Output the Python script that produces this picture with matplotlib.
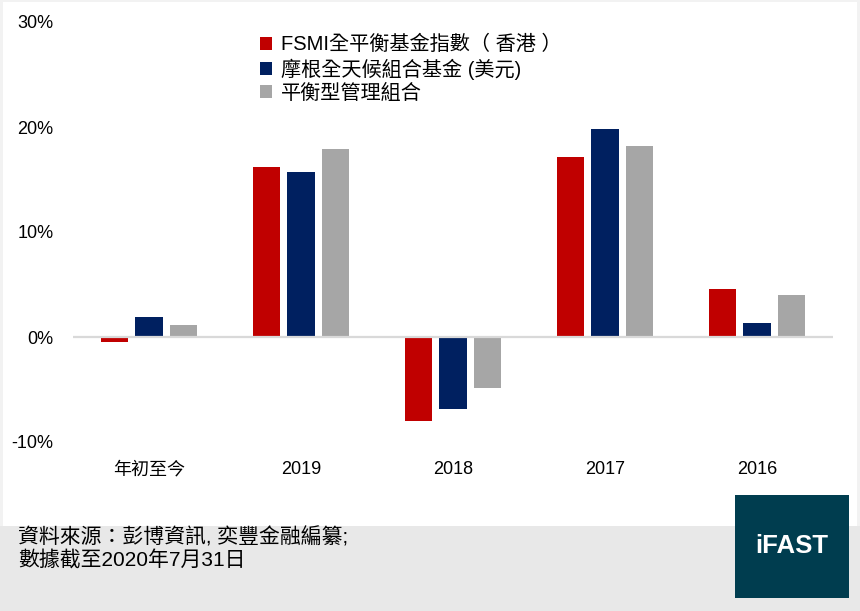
import numpy as np
import matplotlib.pyplot as plt
from matplotlib.patches import Rectangle

plt.rcParams['font.family'] = ['Liberation Sans', 'Noto Sans CJK TC', 'DejaVu Sans']

# 數據 (%)
categories = ['年初至今', '2019', '2018', '2017', '2016']
fsmi = [-0.5, 16.2, -8.0, 17.1, 4.6]
jpm = [1.9, 15.7, -6.9, 19.8, 1.3]
balanced = [1.15, 17.9, -4.85, 18.2, 4.0]
series_names = ['FSMI全平衡基金指數（ 香港 ）', '摩根全天候組合基金 (美元)', '平衡型管理組合']
colors = ['#C00000', '#002060', '#A6A6A6']

W, H = 860, 611
fig = plt.figure(figsize=(8.6, 6.11), dpi=100, facecolor='#F2F2F2')

# 白色圖表區
fig.patches.append(Rectangle((3 / W, 1 - 526 / H), 854 / W, 524 / H, transform=fig.transFigure,
                             facecolor='white', edgecolor='none', zorder=-2))
# 底部灰色資料來源欄
fig.patches.append(Rectangle((0, 0), 1, 1 - 526 / H, transform=fig.transFigure,
                             facecolor='#E8E8E8', edgecolor='none', zorder=-2))
# iFAST 標誌
fig.patches.append(Rectangle((735 / W, 1 - 598 / H), 114 / W, 103 / H,
                             transform=fig.transFigure, facecolor='#003D4F',
                             edgecolor='none', zorder=1))
fig.text(792 / W, 1 - 546 / H, 'iFAST', color='white', fontsize=18.5,
         fontweight='bold', ha='center', va='center')

ax = fig.add_axes([73 / W, 1 - 442 / H, 760 / W, 420 / H])
ax.patch.set_alpha(0)

x = np.arange(len(categories))
w = 0.178
step = 0.224
for i, (vals, name, c) in enumerate(zip([fsmi, jpm, balanced], series_names, colors)):
    ax.bar(x + (i - 1) * step, vals, w, color=c, label=name, zorder=2)

ax.axhline(0, color='#D9D9D9', lw=1.6, zorder=3)

ax.set_xlim(-0.5, len(categories) - 0.5)
ax.set_ylim(-10, 30)
ax.set_yticks([-10, 0, 10, 20, 30])
ax.set_yticklabels([f'{v}%' for v in [-10, 0, 10, 20, 30]])
ax.set_xticks(x)
ax.set_xticklabels(categories)
ax.tick_params(length=0, labelsize=13, colors='black')
ax.tick_params(axis='y', pad=14)
ax.tick_params(axis='x', pad=14)
for s in ax.spines.values():
    s.set_visible(False)

leg = ax.legend(loc='upper left', bbox_to_anchor=(0.235, 0.988), frameon=False,
                fontsize=14.5, handlelength=0.6, handleheight=0.6, handletextpad=0.45,
                labelspacing=0.2, borderaxespad=0)

fig.text(18 / W, 1 - 537 / H, '資料來源：彭博資訊, 奕豐金融編纂;', fontsize=15,
         va='center', ha='left')
fig.text(18 / W, 1 - 561 / H, '數據截至2020年7月31日', fontsize=15,
         va='center', ha='left')

fig.savefig('out.png', dpi=100, facecolor=fig.get_facecolor())
